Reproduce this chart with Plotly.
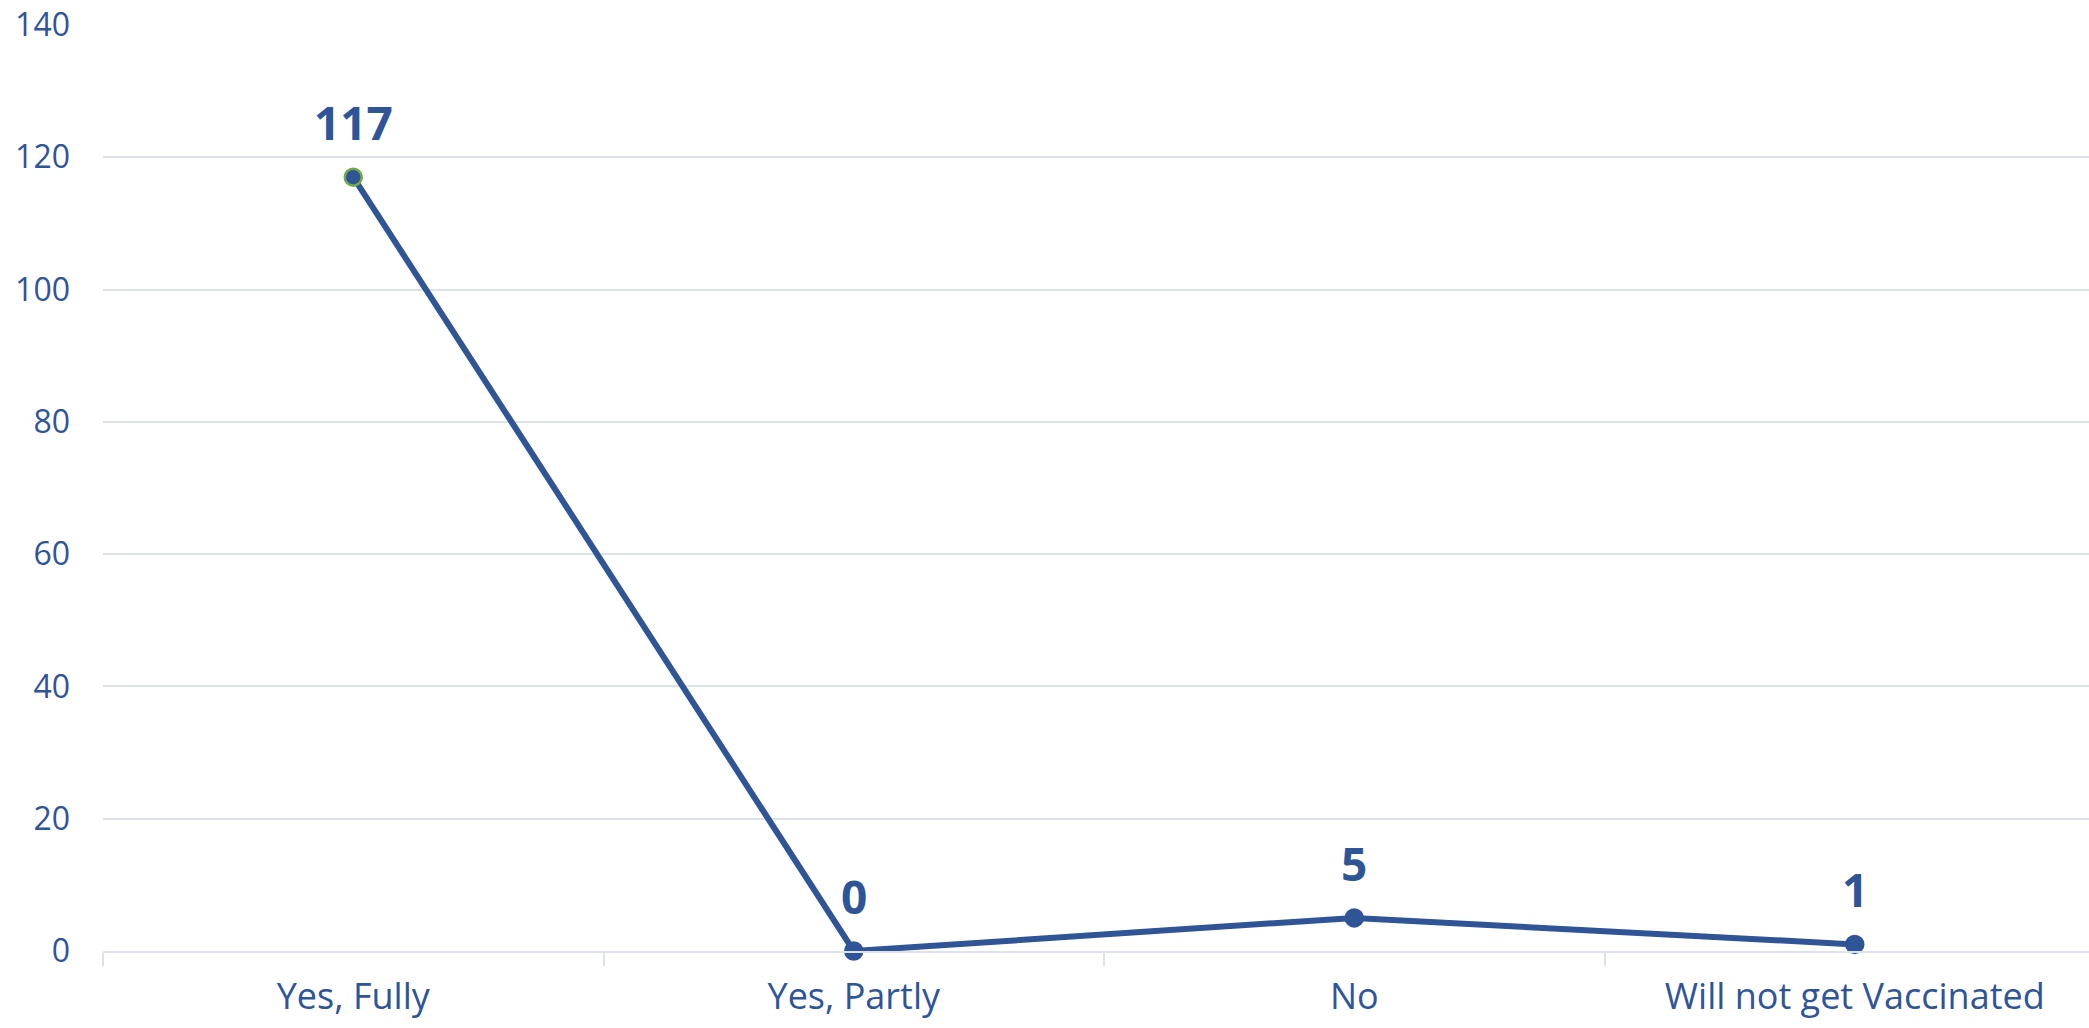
import plotly.graph_objects as go

# Survey responses on vaccination status
categories = ["Yes, Fully", "Yes, Partly", "No", "Will not get Vaccinated"]
counts = [117, 0, 5, 1]
y_ticks = [0, 20, 40, 60, 80, 100, 120, 140]

BLUE = "#2F5597"
GRID = "#DDE1EA"
FONT = "Open Sans"

marker_lines = ["#70AD47"] + [BLUE] * (len(counts) - 1)

fig = go.Figure()
fig.add_trace(go.Scatter(
    x=categories,
    y=counts,
    mode="lines+markers",
    line=dict(color=BLUE, width=6),
    marker=dict(size=17, color=BLUE, line=dict(color=marker_lines, width=2.5)),
    cliponaxis=False,
    showlegend=False,
))

# Value labels above each point
for cat, val in zip(categories, counts):
    fig.add_annotation(
        x=cat, y=val,
        text=str(val),
        showarrow=False,
        yanchor="bottom",
        yshift=22,
        font=dict(family=FONT, size=46, color=BLUE, weight="bold"),
    )

fig.update_layout(
    width=2089,
    height=1028,
    margin=dict(l=103, r=0, t=25, b=77),
    plot_bgcolor="white",
    paper_bgcolor="white",
    font=dict(family=FONT, color=BLUE),
)

fig.update_xaxes(
    type="category",
    range=[-0.5, 3.468],
    automargin=False,
    showgrid=False,
    showline=True,
    linecolor=GRID,
    linewidth=2,
    ticks="outside",
    tickson="boundaries",
    ticklen=13,
    tickwidth=2,
    tickcolor=GRID,
    tickfont=dict(family=FONT, size=36, color=BLUE),
    ticklabelstandoff=13,
    zeroline=False,
)

fig.update_yaxes(
    range=[0, 140],
    tickvals=y_ticks,
    automargin=False,
    showgrid=True,
    gridcolor=GRID,
    gridwidth=2,
    showline=False,
    zeroline=False,
    ticks="",
    tickfont=dict(family=FONT, size=32, color=BLUE),
    ticklabelstandoff=32,
)

fig.write_html("out.html")
